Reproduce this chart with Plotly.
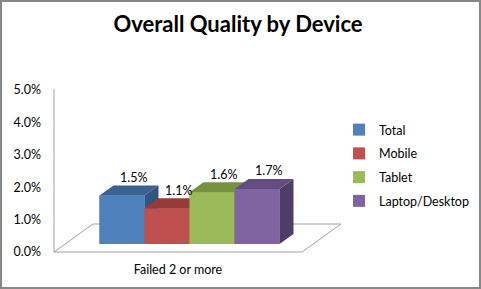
import plotly.graph_objects as go

# ---------------- data ----------------
categories = ["Failed 2 or more"]
series_names = ["Total", "Mobile", "Tablet", "Laptop/Desktop"]
values = [1.5, 1.1, 1.6, 1.7]          # percent
y_tick_values = [0, 1, 2, 3, 4, 5]
y_tick_labels = ["0.0%", "1.0%", "2.0%", "3.0%", "4.0%", "5.0%"]
value_labels = ["1.5%", "1.1%", "1.6%", "1.7%"]

# ---------------- styles ----------------
front_colors = ["#4F81BD", "#C0504D", "#9BBB59", "#8064A2"]
top_colors = ["#3A6292", "#953C39", "#76913F", "#634C80"]
side_colors = ["#31557F", "#82322F", "#667E36", "#4F3D67"]
FONT = "Lato"
TXT = "#000000"
GRID_GRAY = "#A0A0A0"

W, H = 481, 289
ML, MR, MT, MB = 50, 2, 88, 34
PW = W - ML - MR
PH = H - MT - MB
PX_PER_UNIT = 32.4                     # pixels per 1 % on the value axis
K = 1.0 / PX_PER_UNIT                  # value units per pixel
X_RANGE = [-4, PW - 4]
Y_RANGE = [-3 * K, 5 + 2 * K]

# 3-D pseudo perspective (pixels)
BAR_W = 45
GROUP_LEFT = 45.5
BASE = 8 * K
DX = 14
DY = 10 * K
FLOOR_W = 248
FLOOR_DX = 39
FLOOR_DY = 28 * K
LABEL_DX = 11

fig = go.Figure()

# real bars (front faces) - also provide the legend
for i, (name, v) in enumerate(zip(series_names, values)):
    left = GROUP_LEFT + i * BAR_W
    fig.add_trace(go.Bar(
        x=[left + BAR_W / 2], y=[v], base=BASE, width=BAR_W,
        name=name, marker=dict(color=front_colors[i], line=dict(width=0)),
        legendgroup=name, showlegend=True,
        hovertemplate=name + ": %{y:.1f}%<extra></extra>",
    ))

# floor
fig.add_trace(go.Scatter(
    x=[0, FLOOR_W, FLOOR_W + FLOOR_DX, FLOOR_DX, 0],
    y=[0, 0, FLOOR_DY, FLOOR_DY, 0],
    mode="lines", line=dict(color=GRID_GRAY, width=1),
    showlegend=False, hoverinfo="skip",
))

# 3-D faces drawn in painter order
for i, v in enumerate(values):
    L = GROUP_LEFT + i * BAR_W
    R = L + BAR_W
    b = BASE
    t = BASE + v
    # side
    fig.add_trace(go.Scatter(
        x=[R, R + DX, R + DX, R, R], y=[b, b + DY, t + DY, t, b],
        mode="lines", fill="toself", fillcolor=side_colors[i],
        line=dict(width=0, color=side_colors[i]),
        showlegend=False, hoverinfo="skip"))
    # front
    fig.add_trace(go.Scatter(
        x=[L, R, R, L, L], y=[b, b, t, t, b],
        mode="lines", fill="toself", fillcolor=front_colors[i],
        line=dict(width=0, color=front_colors[i]),
        showlegend=False, hoverinfo="skip"))
    # top
    fig.add_trace(go.Scatter(
        x=[L, R, R + DX, L + DX, L], y=[t, t, t + DY, t + DY, t],
        mode="lines", fill="toself", fillcolor=top_colors[i],
        line=dict(width=0, color=top_colors[i]),
        showlegend=False, hoverinfo="skip"))

# value axis line
fig.add_trace(go.Scatter(
    x=[0, 0], y=[0, 5 + 1 * K], mode="lines",
    line=dict(color=GRID_GRAY, width=1), showlegend=False, hoverinfo="skip"))

# value labels
for i, v in enumerate(values):
    L = GROUP_LEFT + i * BAR_W
    fig.add_annotation(
        x=L + BAR_W / 2 + LABEL_DX, y=BASE + v + DY, text=value_labels[i],
        showarrow=False, yanchor="middle", yshift=8,
        font=dict(family=FONT, size=12.5, color=TXT))

# outer border
def px2paper_x(px):
    return (px - ML) / PW

def px2paper_y(py):
    return 1 - (py - MT) / PH

fig.add_shape(type="rect", xref="paper", yref="paper",
              x0=px2paper_x(1), x1=px2paper_x(480),
              y0=px2paper_y(288), y1=px2paper_y(1),
              line=dict(color="#878787", width=2), layer="above")

fig.update_layout(
    template="none",
    width=W, height=H,
    margin=dict(l=ML, r=MR, t=MT, b=MB, pad=0, autoexpand=False),
    paper_bgcolor="white", plot_bgcolor="white",
    barmode="overlay",
    title=dict(text="<b>Overall Quality by Device</b>",
               x=238 / W, xanchor="center", xref="container",
               y=1 - 24.5 / H, yanchor="middle", yref="container",
               font=dict(family=FONT, size=22, color=TXT)),
    xaxis=dict(range=X_RANGE, showgrid=False, zeroline=False, showline=False,
               tickmode="array", tickvals=[FLOOR_W / 2], ticktext=categories,
               ticks="", ticklabelstandoff=5, automargin=False,
               tickfont=dict(family=FONT, size=12.5, color=TXT), fixedrange=True),
    yaxis=dict(range=Y_RANGE, showgrid=False, zeroline=False, showline=False,
               tickmode="array", tickvals=y_tick_values, ticktext=y_tick_labels,
               ticks="", ticklabelstandoff=8, automargin=False,
               tickfont=dict(family=FONT, size=12.5, color=TXT), fixedrange=True),
    legend=dict(x=px2paper_x(339), xref="paper", xanchor="left",
                y=px2paper_y(115), yref="paper", yanchor="top",
                traceorder="grouped", tracegroupgap=4.5,
                font=dict(family=FONT, size=12.5, color=TXT),
                bgcolor="rgba(0,0,0,0)", borderwidth=0, itemwidth=30),
    showlegend=True,
)

fig.write_html("out.html")
